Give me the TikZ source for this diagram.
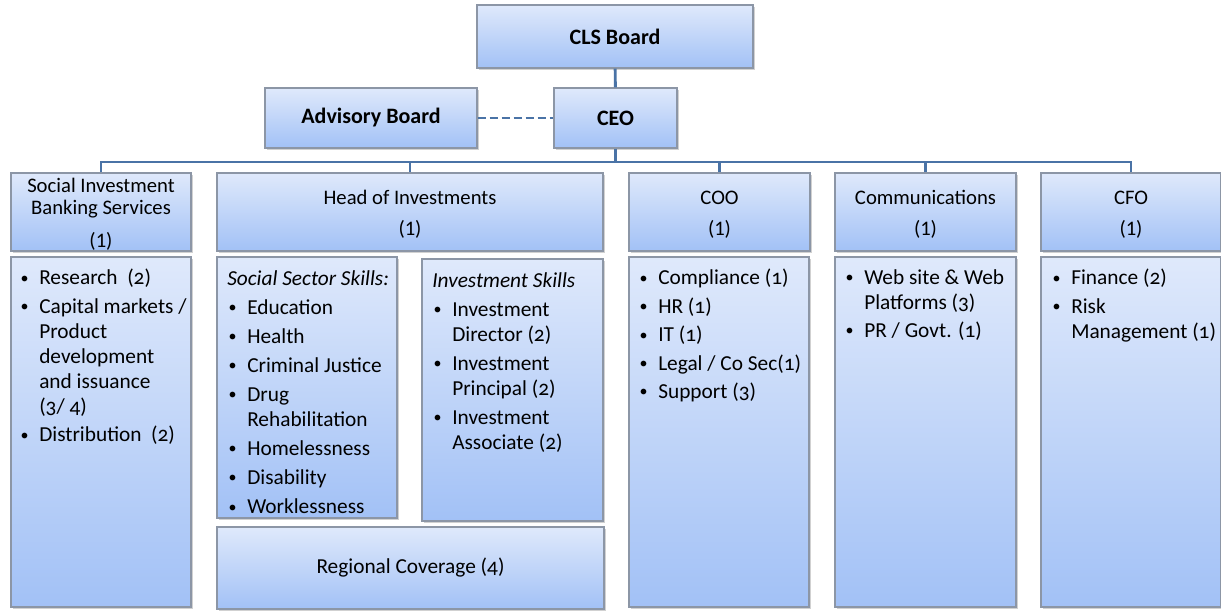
\documentclass[tikz,border=0pt]{standalone}
\usepackage{fontspec}
\usepackage{graphicx}
\setmainfont{Carlito}
\usetikzlibrary{fit,shadows,positioning}
\definecolor{boxtop}{HTML}{DFE9FB}
\definecolor{boxbot}{HTML}{A2C1F6}
\definecolor{boxline}{HTML}{8C96A6}
\definecolor{linkblue}{HTML}{4A73A6}
\newcommand{\bul}{\makebox[15pt][l]{\hspace{1pt}\raisebox{1.2pt}{\scalebox{0.75}{\textbullet}}}}
\newcommand{\ind}{\hspace*{15pt}}
\tikzset{
  box/.style={draw=boxline, line width=0.8pt, top color=boxtop, bottom color=boxbot,
    inner sep=0pt, drop shadow={shadow xshift=1.2pt, shadow yshift=-1.2pt, opacity=0.3, fill=black!60}},
  boldtext/.style={inner sep=0pt, font=\fontsize{16.5}{20}\selectfont\bfseries},
  headtext/.style={inner sep=0pt, align=center, yshift=-2pt, font=\fontsize{15.5}{18.8}\selectfont},
  listtext/.style={anchor=north west, inner sep=0pt, align=left,
    font=\fontsize{16}{18.8}\selectfont\addfontfeatures{Numbers=OldStyle}},
  link/.style={draw=linkblue, line width=2.2pt},
}
\begin{document}
\begin{tikzpicture}[x=0.75pt,y=-0.75pt]
\useasboundingbox (0,0) rectangle (1221,612);
% top boxes
\node[box, fit={(477,5) (753,68)}] (cls) {};
\node[box, fit={(265,88) (477,148)}] (adv) {};
\node[box, fit={(554,88) (677,148)}] (ceo) {};
\node[boldtext] (clstext) at (cls) {CLS Board};
\node[boldtext] (advtext) at (adv) {Advisory Board};
\node[boldtext] (ceotext) at (ceo) {CEO};
% heads
\node[box, fit={(11,173) (191,251)}] (sibs) {};
\node[box, fit={(217,173) (603,251)}] (hoi) {};
\node[box, fit={(629,173) (810,251)}] (coo) {};
\node[box, fit={(835,173) (1016,251)}] (comm) {};
\node[box, fit={(1041,173) (1221,251)}] (cfo) {};
\node[headtext] (sibstitle) at (sibs) {Social Investment\\[-2.3pt]Banking Services\\[6pt](1)};
\node[headtext] (hoititle) at (hoi) {Head of Investments\\[4.5pt](1)};
\node[headtext] (cootitle) at (coo) {COO\\[4.5pt](1)};
\node[headtext] (commtitle) at (comm) {Communications\\[4.5pt](1)};
\node[headtext] (cfotitle) at (cfo) {CFO\\[4.5pt](1)};
% list boxes
\node[box, fit={(11,257) (191,607)}] (sibslist) {};
\node[box, fit={(217,257) (397,518)}] (social) {};
\node[box, fit={(422,259) (603,521)}] (invest) {};
\node[box, fit={(217,527) (604,609)}] (region) {};
\node[box, fit={(629,257) (809,607)}] (coolist) {};
\node[box, fit={(835,257) (1016,607)}] (commlist) {};
\node[box, fit={(1041,257) (1221,607)}] (cfolist) {};
% list texts
\node[listtext] (sibstext) at (19,269) {\bul Research\ \ (2)\\[2.5pt]
  \bul Capital markets /\\ \ind Product\\ \ind development\\ \ind and issuance\\ \ind (3/ 4)\\[2.5pt]
  \bul Distribution\ \ (2)};
\node[listtext] (socialtext) at (227,270) {\textit{Social Sector Skills:}\\[3pt]
  \bul Education\\[3pt] \bul Health\\[3pt] \bul Criminal Justice\\[3pt]
  \bul Drug\\ \ind Rehabilitation\\[3pt] \bul Homelessness\\[3pt]
  \bul Disability\\[3pt] \bul Worklessness};
\node[listtext] (investtext) at (432,272) {\textit{Investment Skills}\\[3pt]
  \bul Investment\\ \ind Director (2)\\[3pt] \bul Investment\\ \ind Principal (2)\\[3pt]
  \bul Investment\\ \ind Associate (2)};
\node[listtext, anchor=center] (regiontext) at (region.center) {Regional Coverage (4)};
\node[listtext] (cootext) at (638,269) {\bul Compliance (1)\\[2.5pt] \bul HR (1)\\[2.5pt] \bul IT (1)\\[2.5pt]
  \bul Legal / Co Sec(1)\\[2.5pt] \bul Support (3)};
\node[listtext] (commtext) at (844,269) {\bul Web site \& Web\\ \ind Platforms (3)\\[2.5pt] \bul PR / Govt. (1)};
\node[listtext] (cfotext) at (1051,269) {\bul Finance (2)\\[2.5pt] \bul Risk\\ \ind Management (1)};
% connectors
\draw[link] (cls) -- (ceo);
\draw[link, dashed, dash pattern=on 6pt off 3pt] (adv) -- (ceo);
\coordinate (bus) at (ceo.south |- 0,162);
\draw[link] (ceo) -- (bus);
\foreach \n in {sibs,hoi,coo,comm,cfo}
  \draw[link] (bus) -| (\n.north);
\end{tikzpicture}
\end{document}
